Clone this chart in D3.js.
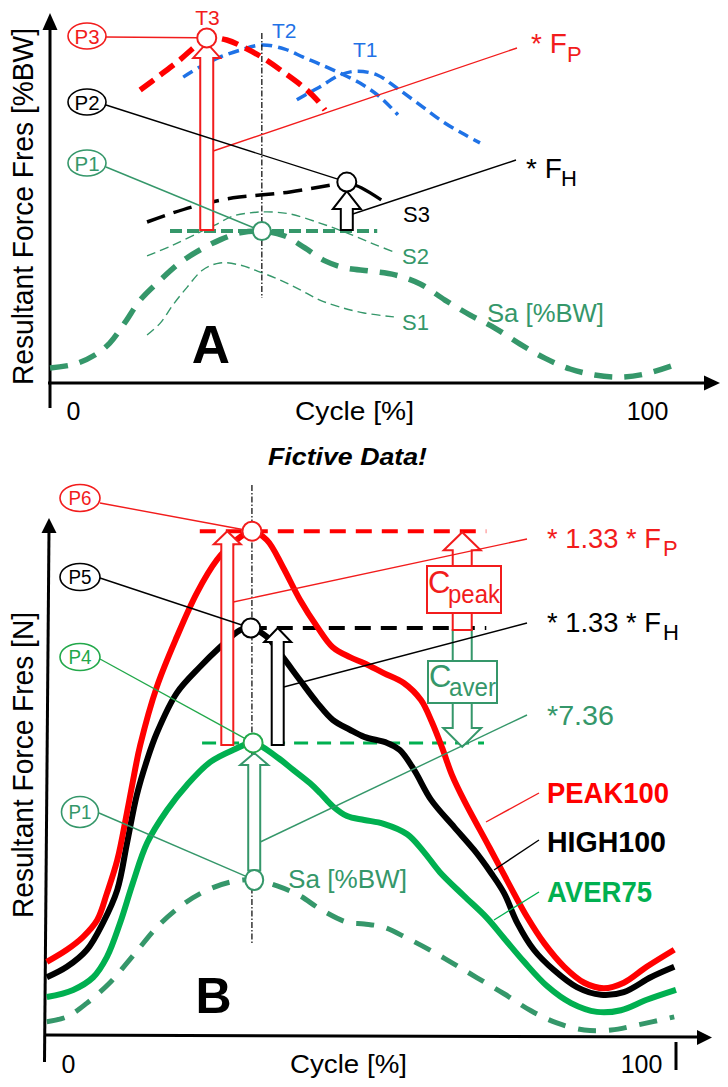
<!DOCTYPE html>
<html><head><meta charset="utf-8">
<script src="https://cdn.jsdelivr.net/npm/d3@7"></script>
<style>body{margin:0;background:#fff} svg{display:block;background:#fff}</style>
</head><body><svg id="c" width="728" height="1087"></svg>
<script>
// ================= DATA (fictive) =================
const xTicks = [0, 100];
// ---- Panel A : resultant force [%BW] over cycle [%] ----
const saCycle  = [-4.0,0.3,3.8,6.4,9.1,11.7,15.2,18.6,22.1,25.6,29.1,32.9,36.9,40.4,43.9,47.4,51.7,56.1,60.5,64.8,69.2,73.5,77.9,82.2,86.6,90.9,95.3,99.7,105.2];
const saValues = [4.3,5.4,8.0,11.4,17.4,23.7,29.4,34.3,38.0,40.9,42.9,43.4,42.0,38.6,34.9,32.9,32.0,30.9,28.3,23.7,19.4,15.7,11.1,7.1,4.0,2.3,1.7,2.6,5.4];
const s1Cycle  = [12.9,15.2,17.4,19.9,22.6,25.6,29.1,32.6,36.1,39.6,43.0,46.5,50.7,55.9];
const s1Values = [13.7,17.1,22.3,27.4,32.3,34.3,33.7,31.7,29.4,26.6,23.7,21.7,20.0,18.9];
const s2Cycle  = [12.9,17.4,22.1,24.7,27.9,30.8,33.8,37.8,43.0,47.7,52.4,56.4];
const s2Values = [36.3,39.4,43.1,45.1,47.7,48.6,48.9,48.3,45.7,42.9,39.7,37.1];
const s3Cycle  = [12.9,17.4,22.1,27.9,32.6,37.8,43.0,47.7];
const s3Values = [46.0,48.6,50.9,52.9,53.7,54.6,56.0,57.4];
const s3TailCycle  = [47.7,50.3,53.7];
const s3TailValues = [57.4,55.7,52.3];
const t3Cycle  = [11.7,15.2,18.6,21.6,23.3,26.8,30.0,33.1,36.6,40.1,42.5,43.9];
const t3Values = [83.7,88.0,92.3,96.6,98.6,98.0,95.7,92.9,88.9,84.6,80.9,78.0];
const t2Cycle  = [19.2,22.1,25.6,29.1,32.9,36.9,40.1,43.0,46.0,50.0,53.5,56.6];
const t2Values = [87.4,90.3,93.1,95.1,96.6,95.4,93.1,91.1,88.9,85.7,81.7,76.6];
const t1Cycle  = [39.0,41.3,43.0,46.5,49.5,53.0,56.4,60.5,64.5,68.3,70.9];
const t1Values = [80.9,83.1,84.6,88.0,89.1,88.0,84.3,79.4,74.6,70.9,68.6];
const levelA = [16.9, 53.0];           // cycle extent of the Sa-peak level line

// ---- Panel B : resultant force [N] ----
const peakCycle  = [-3.7,-0.2,2.6,5.1,6.8,8.6,10.3,11.7,12.6,15.5,19.0,22.5,26.0,28.8,32.1,34.7,37.5,40.5,43.5,46.2,49.2,51.7,55.1,58.6,61.6,63.5,65.3,67.0,69.1,73.6,77.8,80.1,83.1,86.6,90.1,93.5,97.0,101.0,105.8];
const peakValues = [13.3,15.5,17.8,20.9,25.8,31.8,40.5,48.2,52.7,63.3,72.4,80.4,86.4,89.5,91.6,90.0,85.1,79.1,74.2,70.5,68.7,67.6,65.8,64.0,60.9,56.9,52.2,47.3,42.7,34.0,25.8,21.5,16.7,12.4,9.5,8.5,9.5,12.4,15.5];
const highCycle  = [-3.7,-0.2,3.3,6.1,8.6,10.3,12.0,13.8,15.5,19.0,23.0,26.5,30.0,31.9,34.7,37.5,40.5,43.5,46.2,49.2,51.7,55.7,57.9,60.4,63.4,67.4,70.9,73.8,76.1,78.4,81.3,84.8,88.8,93.0,97.0,101.7,105.8];
const highValues = [10.5,12.4,15.5,20.4,26.4,34.9,43.6,50.0,54.9,62.2,66.9,70.5,73.6,74.0,72.4,68.7,64.5,60.4,57.3,55.5,54.2,53.1,51.8,48.2,42.7,37.8,33.6,29.5,25.8,20.4,15.5,11.8,8.7,7.3,7.8,10.5,12.4];
const averCycle  = [-3.7,0.9,4.4,6.8,9.1,11.3,13.8,17.3,20.8,24.8,28.8,32.3,36.5,39.3,42.2,44.0,46.2,48.7,51.7,55.1,59.2,62.1,64.9,69.1,73.1,76.1,79.6,83.6,87.8,92.3,96.5,101.0,106.1];
const averValues = [6.9,8.2,10.5,14.2,20.4,27.6,34.9,40.9,45.5,49.6,51.8,53.1,50.5,48.2,45.8,44.0,41.6,39.8,39.1,38.4,36.5,33.3,29.6,25.3,21.3,17.6,13.3,8.9,5.8,4.2,4.5,6.4,8.2];
const saBCycle   = [-3.7,-0.2,3.3,7.3,10.3,12.6,15.5,19.5,23.6,28.3,32.5,36.5,40.5,44.0,48.7,51.7,55.1,59.2,63.4,67.4,71.4,76.1,80.8,85.3,90.1,94.8,99.3,105.8];
const saBValues  = [2.4,3.3,5.8,9.5,13.1,16.0,19.6,23.3,26.0,27.8,28.2,27.1,25.3,22.9,20.5,20.2,19.6,17.6,15.3,12.9,10.4,7.5,4.4,2.2,0.9,0.9,1.8,3.3];
const levelPeakB = [23.0, 73.0];
const levelHighEnd = 73.0;
const levelAverB = [23.4, 72.6];
const arrowCycleB = {peak: 27.8, high: 36.6, comp: 68.8};
const factorLabels = ["* 1.33 * F", "* 1.33 * F", "*7.36"];
const seriesNames = ["PEAK100", "HIGH100", "AVER75"];

// ================= DRAWING =================
const FONT = '"Liberation Sans", Arial, Helvetica, sans-serif';
const RED = "#f21c1c", RED2 = "#ff0000", BLUE = "#1f72e6", TEAL = "#35976a",
      GREEN = "#00b050", GREEN2 = "#22a84a", BLACK = "#000";
const svg = d3.select("#c");

const xA = d3.scaleLinear([0, 100], [73, 647]);
const yA = d3.scaleLinear([0, 100], [383, 33]);
const xB = d3.scaleLinear([0, 100], [68, 641]);
const yB = d3.scaleLinear([0, 100], [1035, 485]);

const zip = (cs, vs) => cs.map((c, i) => [c, vs[i]]);
const peakOf = (cs, vs) => d3.greatest(zip(cs, vs), d => d[1]);

function curve(g, xs, ys, cs, vs, o) {
  const line = d3.line().x(d => xs(d[0])).y(d => ys(d[1])).curve(d3.curveCatmullRom.alpha(0.5));
  return g.append("path").attr("d", line(zip(cs, vs)))
    .attr("fill", "none").attr("stroke", o.stroke).attr("stroke-width", o.w)
    .attr("stroke-dasharray", o.dash || null).attr("stroke-linecap", o.cap || "butt")
    .attr("stroke-linejoin", "round");
}
function txt(g, x, y, s, o = {}) {
  const t = g.append("text").attr("x", x).attr("y", y).text(s)
    .attr("font-family", FONT).attr("font-size", o.size || 20).attr("fill", o.fill || BLACK)
    .attr("text-anchor", o.anchor || "start");
  if (o.weight) t.attr("font-weight", o.weight);
  if (o.style) t.attr("font-style", o.style);
  if (o.len) t.attr("textLength", o.len).attr("lengthAdjust", "spacingAndGlyphs");
  return t;
}
function seg(g, x1, y1, x2, y2, col, w, dash) {
  return g.append("line").attr("x1", x1).attr("y1", y1).attr("x2", x2).attr("y2", y2)
    .attr("stroke", col).attr("stroke-width", w).attr("stroke-dasharray", dash || null);
}
function toCircle(g, x1, y1, cx, cy, r, col, w) {
  const dx = cx - x1, dy = cy - y1, L = Math.hypot(dx, dy);
  return seg(g, x1, y1, cx - dx / L * r, cy - dy / L * r, col, w);
}
function blockArrow(g, x, yBot, yTip, sh, hh, hl, col, sw) {
  const b = yTip < yBot ? yTip + hl : yTip - hl;
  const p = [[x - sh, yBot], [x - sh, b], [x - hh, b], [x, yTip], [x + hh, b], [x + sh, b], [x + sh, yBot]];
  return g.append("path").attr("d", "M" + p.join("L") + "Z").attr("fill", "#fff")
    .attr("stroke", col).attr("stroke-width", sw).attr("stroke-linejoin", "miter");
}
function marker(g, cx, cy, r, col, w) {
  return g.append("circle").attr("cx", cx).attr("cy", cy).attr("r", r)
    .attr("fill", "#fff").attr("stroke", col).attr("stroke-width", w || 2);
}
function pTag(g, cx, cy, rx, ry, s, col, size, len) {
  g.append("ellipse").attr("cx", cx).attr("cy", cy).attr("rx", rx).attr("ry", ry)
    .attr("fill", "#fff").attr("stroke", col).attr("stroke-width", 1.6);
  txt(g, cx, cy + size * 0.36, s, {size: size, fill: col, anchor: "middle", len: len});
}
function arrowHead(g, pts) {
  g.append("path").attr("d", "M" + pts.join("L") + "Z").attr("fill", BLACK);
}
function xTickLabels(g, xs, y, pad) {
  const ax = g.append("g").attr("transform", `translate(0,${y})`)
    .call(d3.axisBottom(xs).tickValues(xTicks).tickSize(0).tickPadding(pad).tickFormat(d3.format("d")));
  ax.select(".domain").remove();
  ax.selectAll("text").attr("font-size", 25).attr("font-family", FONT).attr("fill", BLACK);
}

// ---------------- PANEL A ----------------
const gA = svg.append("g");
seg(gA, 50, 408, 50, 28, BLACK, 3);
arrowHead(gA, [[50, 13], [42.5, 30], [57.5, 30]]);
seg(gA, 48, 383, 706, 383, BLACK, 3);
arrowHead(gA, [[720, 383], [704, 375.5], [704, 390.5]]);
xTickLabels(gA, xA, 383, 19);
txt(gA, 295, 420, "Cycle [%]", {size: 25, len: 119});
gA.append("g").attr("transform", "translate(33,385) rotate(-90)")
  .call(g => txt(g, 0, 0, "Resultant Force Fres [%BW]", {size: 30, len: 357}));

const saPk = peakOf(saCycle, saValues);
const t3Pk = peakOf(t3Cycle, t3Values);
const s3Pk = peakOf(s3Cycle, s3Values);

curve(gA, xA, yA, s1Cycle, s1Values, {stroke: TEAL, w: 1.4, dash: "9,5"});
curve(gA, xA, yA, s2Cycle, s2Values, {stroke: TEAL, w: 1.4, dash: "9,5"});
curve(gA, xA, yA, saCycle, saValues, {stroke: TEAL, w: 5.5, dash: "18,12"});
seg(gA, xA(levelA[0]), yA(saPk[1]), xA(levelA[1]), yA(saPk[1]), TEAL, 4, "12,5");
curve(gA, xA, yA, s3Cycle, s3Values, {stroke: BLACK, w: 3.5, dash: "19,9"});
curve(gA, xA, yA, s3TailCycle, s3TailValues, {stroke: BLACK, w: 3.2});
curve(gA, xA, yA, t2Cycle, t2Values, {stroke: BLUE, w: 3.5, dash: "11,6"});
curve(gA, xA, yA, t1Cycle, t1Values, {stroke: BLUE, w: 3.5, dash: "11,6"});
curve(gA, xA, yA, t3Cycle, t3Values, {stroke: RED2, w: 5.5, dash: "17,8"});
seg(gA, xA(saPk[0]), yA(100), xA(saPk[0]), yA(24.3), BLACK, 1.2, "6,2,1.5,2");
blockArrow(gA, xA(t3Pk[0]), yA(saPk[1]) - 1, yA(t3Pk[1]) + 5, 6.5, 13.5, 15, RED, 2);
blockArrow(gA, xA(s3Pk[0]), yA(saPk[1]) - 1, yA(s3Pk[1]) + 9, 6, 14, 18, BLACK, 2);
const aRedX = xA(t3Pk[0]) + 6.5;
seg(gA, aRedX, 151, 517, 48, RED, 1.4);
seg(gA, xA(s3Pk[0]) + 6, 214, 516, 160, BLACK, 1.4);
toCircle(gA, 106, 37, xA(t3Pk[0]), yA(t3Pk[1]), 9.5, RED, 1.4);
toCircle(gA, 106, 105, xA(s3Pk[0]), yA(s3Pk[1]), 9.5, BLACK, 1.4);
toCircle(gA, 106, 167, xA(saPk[0]), yA(saPk[1]), 9.5, TEAL, 1.4);
marker(gA, xA(t3Pk[0]), yA(t3Pk[1]), 9.5, RED);
marker(gA, xA(s3Pk[0]), yA(s3Pk[1]), 9.5, BLACK);
marker(gA, xA(saPk[0]), yA(saPk[1]), 9, TEAL);
pTag(gA, 87, 36, 19, 13, "P3", RED, 21, 25);
pTag(gA, 87, 102, 19, 13, "P2", BLACK, 21, 25);
pTag(gA, 87, 163, 19, 13, "P1", TEAL, 21, 25);
txt(gA, 207.5, 25, "T3", {size: 21, fill: RED, anchor: "middle"});
txt(gA, 272, 38, "T2", {size: 21, fill: BLUE});
txt(gA, 353, 57, "T1", {size: 21, fill: BLUE});
txt(gA, 531, 53, "* F", {size: 28, fill: RED});
txt(gA, 567, 62, "P", {size: 22, fill: RED});
txt(gA, 526, 178, "* F", {size: 28, fill: BLACK});
txt(gA, 561, 186, "H", {size: 22, fill: BLACK});
txt(gA, 403, 222, "S3", {size: 22, fill: BLACK});
txt(gA, 402, 264, "S2", {size: 22, fill: TEAL});
txt(gA, 402, 330, "S1", {size: 22, fill: TEAL});
txt(gA, 487, 322, "Sa [%BW]", {size: 26, fill: TEAL, len: 117});
txt(gA, 211, 363, "A", {size: 53, weight: "bold", anchor: "middle"});
txt(gA, 268, 465, "Fictive Data!", {size: 23, weight: "bold", style: "italic", len: 159});

// ---------------- PANEL B ----------------
const gB = svg.append("g");
seg(gB, 44.5, 1062, 49, 530, BLACK, 3);
arrowHead(gB, [[49, 518], [41.5, 533], [56.5, 533]]);
seg(gB, 44, 1035, 698, 1037, BLACK, 3);
arrowHead(gB, [[712, 1037.5], [697, 1030], [697, 1045]]);
seg(gB, 676, 1042, 676, 1070, BLACK, 3);
xTickLabels(gB, xB, 1035, 20);
txt(gB, 290, 1073, "Cycle [%]", {size: 25, len: 117});
gB.append("g").attr("transform", "translate(33,918) rotate(-90)")
  .call(g => txt(g, 0, 0, "Resultant Force Fres [N]", {size: 30, len: 306}));

const pkPk = peakOf(peakCycle, peakValues);
const hiPk = peakOf(highCycle, highValues);
const avPk = peakOf(averCycle, averValues);
const sbPk = peakOf(saBCycle, saBValues);

seg(gB, xB(levelPeakB[0]), yB(pkPk[1]), xB(levelPeakB[1]), yB(pkPk[1]), RED2, 4, "16,10");
seg(gB, xB(hiPk[0]), yB(hiPk[1]), xB(levelHighEnd), yB(hiPk[1]), BLACK, 4, "16,10");
seg(gB, xB(levelAverB[0]), yB(avPk[1]), xB(levelAverB[1]), yB(avPk[1]), GREEN, 3, "14,9");
curve(gB, xB, yB, saBCycle, saBValues, {stroke: TEAL, w: 5, dash: "18,13"});
curve(gB, xB, yB, averCycle, averValues, {stroke: GREEN, w: 6});
curve(gB, xB, yB, highCycle, highValues, {stroke: BLACK, w: 6});
curve(gB, xB, yB, peakCycle, peakValues, {stroke: RED2, w: 6});
seg(gB, xB(pkPk[0]), yB(100), xB(pkPk[0]), yB(16.7), BLACK, 1.2, "6,2,1.5,2");
const bRedX = xB(arrowCycleB.peak), bBlkX = xB(arrowCycleB.high), bCmpX = xB(arrowCycleB.comp);
blockArrow(gB, bRedX, yB(avPk[1]) + 2, yB(pkPk[1]), 6, 13.5, 13, RED, 2);
blockArrow(gB, bBlkX, yB(avPk[1]) + 2, yB(hiPk[1]), 6, 13.5, 14, BLACK, 2);
blockArrow(gB, xB(sbPk[0]), yB(sbPk[1]) - 9.5, yB(avPk[1]) + 10, 6, 14, 12, TEAL, 2);
blockArrow(gB, bCmpX, yB(hiPk[1]) + 2, yB(avPk[1]) + 4, 9.5, 19, 19, TEAL, 2);
blockArrow(gB, bCmpX, yB(hiPk[1]) + 2, yB(pkPk[1]) + 1, 9.5, 18.5, 18, RED, 2);
gB.append("rect").attr("x", 427).attr("y", 566).attr("width", 74).attr("height", 47)
  .attr("fill", "#fff").attr("stroke", RED).attr("stroke-width", 2);
txt(gB, 428, 593, "C", {size: 31, fill: RED});
txt(gB, 448, 603, "peak", {size: 25, fill: RED, len: 52});
gB.append("rect").attr("x", 428).attr("y", 661).attr("width", 69).attr("height", 42)
  .attr("fill", "#fff").attr("stroke", TEAL).attr("stroke-width", 2);
txt(gB, 429, 687, "C", {size: 31, fill: TEAL});
txt(gB, 449, 696, "aver", {size: 25, fill: TEAL, len: 47});
seg(gB, bRedX + 6, 602, 527, 539, RED, 1.4);
seg(gB, bBlkX + 6, 687, 527, 623, BLACK, 1.4);
seg(gB, xB(sbPk[0]) + 6, 842, 527, 715, TEAL, 1.4);
seg(gB, 486, 822, 539, 793, RED, 1.4);
seg(gB, 494, 870, 539, 840, BLACK, 1.4);
seg(gB, 494, 920, 539, 892, GREEN, 1.4);
toCircle(gB, 100, 503, xB(pkPk[0]), yB(pkPk[1]), 9.5, RED, 1.4);
toCircle(gB, 100, 578, xB(hiPk[0]), yB(hiPk[1]), 9.5, BLACK, 1.4);
toCircle(gB, 100, 659, xB(avPk[0]), yB(avPk[1]), 9.5, GREEN2, 1.4);
toCircle(gB, 99, 813, xB(sbPk[0]), yB(sbPk[1]), 9.5, TEAL, 1.4);
marker(gB, xB(pkPk[0]), yB(pkPk[1]), 9.5, RED);
marker(gB, xB(hiPk[0]), yB(hiPk[1]), 9.5, BLACK);
marker(gB, xB(avPk[0]), yB(avPk[1]), 9.5, GREEN2);
gB.append("ellipse").attr("cx", xB(sbPk[0])).attr("cy", yB(sbPk[1])).attr("rx", 9).attr("ry", 10)
  .attr("fill", "#fff").attr("stroke", TEAL).attr("stroke-width", 2);
pTag(gB, 80, 498, 20, 13.5, "P6", RED, 20, 23);
pTag(gB, 80, 577, 20, 13.5, "P5", BLACK, 20, 23);
pTag(gB, 80, 657, 20, 13.5, "P4", GREEN2, 20, 23);
pTag(gB, 80, 812, 18.5, 15.5, "P1", TEAL, 20, 23);
txt(gB, 547, 548, factorLabels[0], {size: 28, fill: RED, len: 114});
txt(gB, 663, 556, "P", {size: 22, fill: RED});
txt(gB, 547, 632, factorLabels[1], {size: 28, fill: BLACK, len: 114});
txt(gB, 663, 640, "H", {size: 22, fill: BLACK});
txt(gB, 547, 725, factorLabels[2], {size: 28, fill: TEAL, len: 67});
txt(gB, 547, 803, seriesNames[0], {size: 29, weight: "bold", fill: RED2, len: 122});
txt(gB, 547, 852, seriesNames[1], {size: 29, weight: "bold", fill: BLACK, len: 119});
txt(gB, 547, 902, seriesNames[2], {size: 29, weight: "bold", fill: GREEN, len: 105});
txt(gB, 288, 888, "Sa [%BW]", {size: 26, fill: TEAL, len: 119});
txt(gB, 213.5, 1013, "B", {size: 50, weight: "bold", anchor: "middle"});
</script></body></html>
